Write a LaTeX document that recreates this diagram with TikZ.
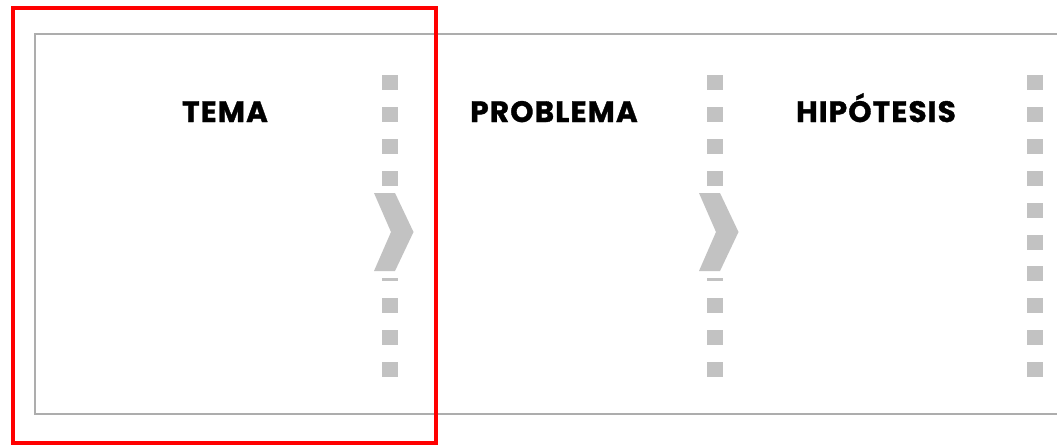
\documentclass[tikz,border=0pt]{standalone}
\usepackage{fontspec}
\setmainfont{Poppins}
\newfontfamily\titlefont{Poppins}[BoldFeatures={FakeBold=1.2,LetterSpace=4}]
\begin{document}
\begin{tikzpicture}[x=1pt,y=-1pt,
  frame/.style={draw=black!32, line width=2pt},
  dotsq/.style={fill=black!24},
  chev/.style={fill=black!24},
  title/.style={anchor=base, inner sep=0pt, font=\titlefont\bfseries\fontsize{29.5}{30}\selectfont},
  highlight/.style={draw=red, line width=4pt}]
\useasboundingbox (0,0) rectangle (1057,445);
\draw[frame] (1062,34) -- (35,34) -- (35,414) -- (1062,414);
\foreach \cx in {390,715,1035} {
  \foreach \i in {0,...,9} {
    \fill[dotsq] (\cx-8,75+31.9*\i) rectangle ++(16,15);
  }
}
\foreach \cx in {390,715} {
  \fill[white] (\cx-22,186) rectangle (\cx+28,278);
  \fill[chev] (\cx-16,193) -- (\cx+5,193) -- (\cx+23.5,232) -- (\cx+5,271) -- (\cx-16,271) -- (\cx+1,232) -- cycle;
}
\node[title] (tema) at (225,122) {TEMA};
\node[title] (problema) at (554,122) {PROBLEMA};
\node[title] (hipotesis) at (876,122) {HIPÓTESIS};
\draw[highlight] (13,8) rectangle (435.5,443);
\end{tikzpicture}
\end{document}
